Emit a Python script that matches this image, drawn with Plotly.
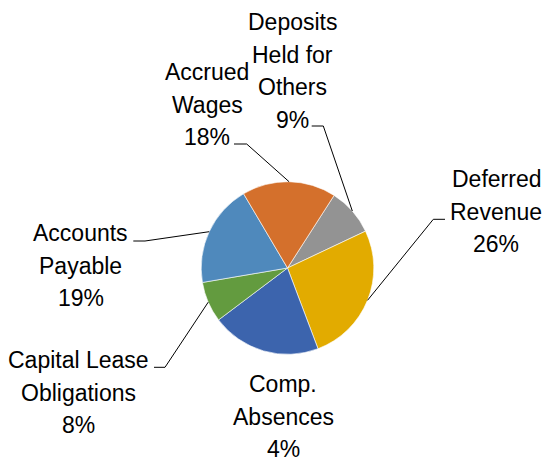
import math
import plotly.graph_objects as go

# ---- data ----
categories = ["Deposits Held for Others", "Deferred Revenue", "Comp. Absences",
              "Capital Lease Obligations", "Accounts Payable", "Accrued Wages"]
slice_values = [8.9, 26.3, 20.5, 7.6, 19.2, 17.6]
pct_labels = ["9%", "26%", "4%", "8%", "19%", "18%"]
label_lines = [["Deposits", "Held for", "Others"], ["Deferred", "Revenue"],
               ["Comp.", "Absences"], ["Capital Lease", "Obligations"],
               ["Accounts", "Payable"], ["Accrued", "Wages"]]
colors = ["#939393", "#E2AB00", "#3C64AD", "#639B3F", "#4F89BC", "#D4702C"]

# ---- layout (pixels) ----
W, H = 548, 461
CX, CY, R = 287.5, 268.0, 86.3
ROTATION = 32.7
LINE_GAP = 32.7
FONT = dict(family="Liberation Sans, Arial, sans-serif", size=23, color="#000000")
# label center x, first-line center y
label_pos = [(292, 22), (496, 179), (283, 384), (78, 360), (80.5, 233), (207, 72)]
# leader: (start x, elbow x, y) or None
leaders = [(311.7, 323.3, 126), (445, 433.3, 219.3), None,
           (154, 165, 367.3), (133.3, 145, 241), (234, 246.7, 144)]


def px(x):
    return x / W


def py(y):
    return 1 - y / H


fig = go.Figure()
fig.add_trace(go.Pie(
    labels=categories, values=slice_values, sort=False, direction="clockwise",
    rotation=ROTATION, textinfo="none", hoverinfo="label+percent",
    marker=dict(colors=colors, line=dict(color="#FFFFFF", width=0.6)),
    domain=dict(x=[px(CX - R), px(CX + R)], y=[py(CY + R), py(CY - R)]),
    showlegend=False,
))

annotations = []
shapes = []
total = sum(slice_values)
start = ROTATION
for i, v in enumerate(slice_values):
    ang = start + v / total * 360 / 2
    start += v / total * 360
    lx, ly = label_pos[i]
    lines = label_lines[i] + [pct_labels[i]]
    for k, t in enumerate(lines):
        is_pct = k == len(lines) - 1
        annotations.append(dict(x=px(lx), y=py(ly + k * LINE_GAP), xref="paper", yref="paper",
                                text=t, showarrow=False, xanchor="center", yanchor="middle",
                                height=20 if is_pct else None, font=FONT))
    if leaders[i] is not None:
        sx, ex, yy = leaders[i]
        ex_pt = CX + R * math.sin(math.radians(ang))
        ey_pt = CY - R * math.cos(math.radians(ang))
        shapes.append(dict(type="line", xref="paper", yref="paper",
                           x0=px(sx), y0=py(yy), x1=px(ex), y1=py(yy),
                           line=dict(color="#000000", width=1)))
        shapes.append(dict(type="line", xref="paper", yref="paper",
                           x0=px(ex), y0=py(yy), x1=px(ex_pt), y1=py(ey_pt),
                           line=dict(color="#000000", width=1)))

fig.update_layout(
    width=W, height=H, margin=dict(l=0, r=0, t=0, b=0),
    paper_bgcolor="#FFFFFF", plot_bgcolor="#FFFFFF",
    annotations=annotations, shapes=shapes, showlegend=False,
)
fig.write_html("out.html", config={"displayModeBar": False},
               post_script="document.body.style.margin='0';document.body.style.overflow='hidden';")
